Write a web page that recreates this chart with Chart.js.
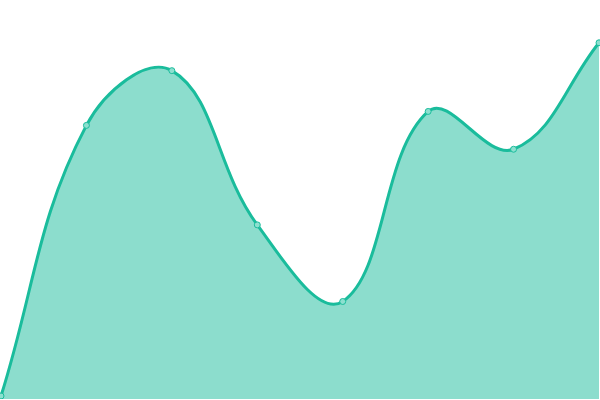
<!DOCTYPE html>
<html><head><meta charset="utf-8">
<script src="https://cdn.jsdelivr.net/npm/chart.js@4"></script>
<style>html,body{margin:0;padding:0;background:#fff;overflow:hidden;width:600px;height:400px}#wrap{position:absolute;left:-4px;top:-4px;width:608px;height:408px}</style>
</head><body><div id="wrap"><canvas id="c"></canvas></div>
<script>
const labels = ["1","2","3","4","5","6","7","8"];
const values = [3, 275, 330, 175, 98, 289, 251, 358];
new Chart(document.getElementById('c'), {
  type: 'line',
  data: { labels: labels, datasets: [{
    data: values,
    fill: true,
    tension: 0.4,
    borderColor: '#1abc9c',
    backgroundColor: 'rgba(26,188,156,0.5)',
    borderWidth: 3,
    pointRadius: 3,
    pointBorderWidth: 1,
    pointBackgroundColor: '#8ce0cf',
    pointBorderColor: '#1abc9c'
  }]},
  options: {
    responsive: true, maintainAspectRatio: false, animation: false,
    layout: { padding: 0 },
    plugins: { legend: { display: false }, tooltip: { enabled: false } },
    scales: {
      x: { display: false, offset: false },
      y: { display: false, min: 0, max: 400 }
    }
  }
});
</script></body></html>
